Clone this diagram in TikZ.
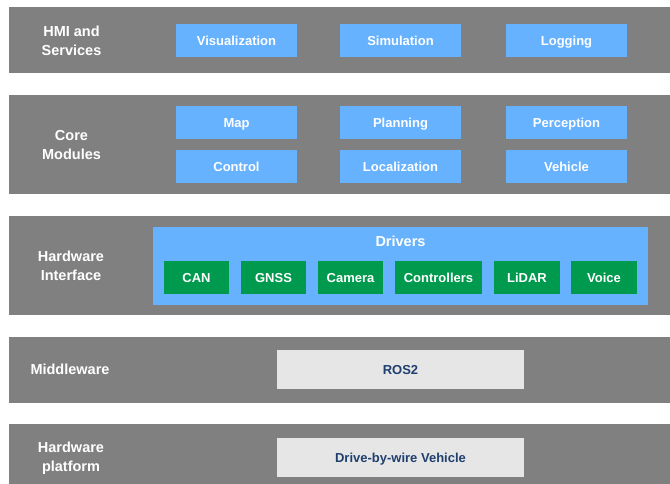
\documentclass[tikz,border=0pt]{standalone}
\usepackage{fontspec}
\setmainfont{Liberation Sans}
\definecolor{bandgray}{HTML}{808080}
\definecolor{modblue}{HTML}{66B2FF}
\definecolor{drvgreen}{HTML}{009A4E}
\definecolor{lightgray}{HTML}{E6E6E6}
\definecolor{navytext}{HTML}{1F3F6F}
\begin{document}
\begin{tikzpicture}[x=1pt,y=-1pt,
  band/.style={fill=bandgray,inner sep=0pt,outer sep=0pt,minimum width=661pt},
  lbl/.style={text=white,align=center,font=\fontsize{14.5}{19}\selectfont\bfseries,inner sep=0pt},
  boxtext/.style={text height=9.4pt,text depth=0pt,font=\fontsize{13}{15}\selectfont\bfseries},
  mod/.style={boxtext,fill=modblue,text=white,inner sep=0pt,minimum width=121pt,minimum height=33pt},
  drv/.style={boxtext,fill=drvgreen,text=white,inner sep=0pt,minimum height=33pt},
  base/.style={boxtext,fill=lightgray,text=navytext,inner sep=0pt,minimum width=247pt,minimum height=39pt}]
\useasboundingbox (0,0) rectangle (670,483);
% bands
\node[band,minimum height=66pt] (b1) at (339.5,40) {};
\node[band,minimum height=99pt] (b2) at (339.5,144.5) {};
\node[band,minimum height=99pt] (b3) at (339.5,265.5) {};
\node[band,minimum height=66pt] (b4) at (339.5,370) {};
\node[band,minimum height=62pt] (b5) at (339.5,455) {};
% labels
\node[lbl] (l1) at (71.5,40.5) {HMI and\\Services};
\node[lbl] (l2) at (71.5,145.5) {Core\\Modules};
\node[lbl] (l3) at (71,265.5) {Hardware\\Interface};
\node[lbl] (l4) at (70,369.5) {Middleware};
\node[lbl] (l5) at (71,458) {Hardware\\platform};
% HMI
\node[mod] (vis) at (236.5,40.5) {Visualization};
\node[mod] (sim) at (400.5,40.5) {Simulation};
\node[mod] (log) at (566.5,40.5) {Logging};
% core
\node[mod] (map) at (236.5,122.5) {Map};
\node[mod] (plan) at (400.5,122.5) {Planning};
\node[mod] (perc) at (566.5,122.5) {Perception};
\node[mod] (ctrl) at (236.5,166.5) {Control};
\node[mod] (loc) at (400.5,166.5) {Localization};
\node[mod] (veh) at (566.5,166.5) {Vehicle};
% drivers
\node[fill=modblue,inner sep=0pt,minimum width=495pt,minimum height=78pt] (drivers) at (400.5,266) {};
\node[text=white,inner sep=0pt,text height=10.4pt,text depth=0pt,font=\fontsize{14.5}{17}\selectfont\bfseries] (drvlbl) at (400.5,241.5) {Drivers};
\node[drv,minimum width=65pt] (can) at (196.5,277.5) {CAN};
\node[drv,minimum width=65pt] (gnss) at (273.5,277.5) {GNSS};
\node[drv,minimum width=65pt] (cam) at (350.5,277.5) {Camera};
\node[drv,minimum width=87pt] (contr) at (438.5,277.5) {Controllers};
\node[drv,minimum width=66pt] (lidar) at (527,277.5) {LiDAR};
\node[drv,minimum width=66pt] (voice) at (604,277.5) {Voice};
% middleware & platform
\node[base] (ros) at (400.5,369.5) {ROS2};
\node[base] (dbw) at (400.5,457.5) {Drive-by-wire Vehicle};
\end{tikzpicture}
\end{document}
